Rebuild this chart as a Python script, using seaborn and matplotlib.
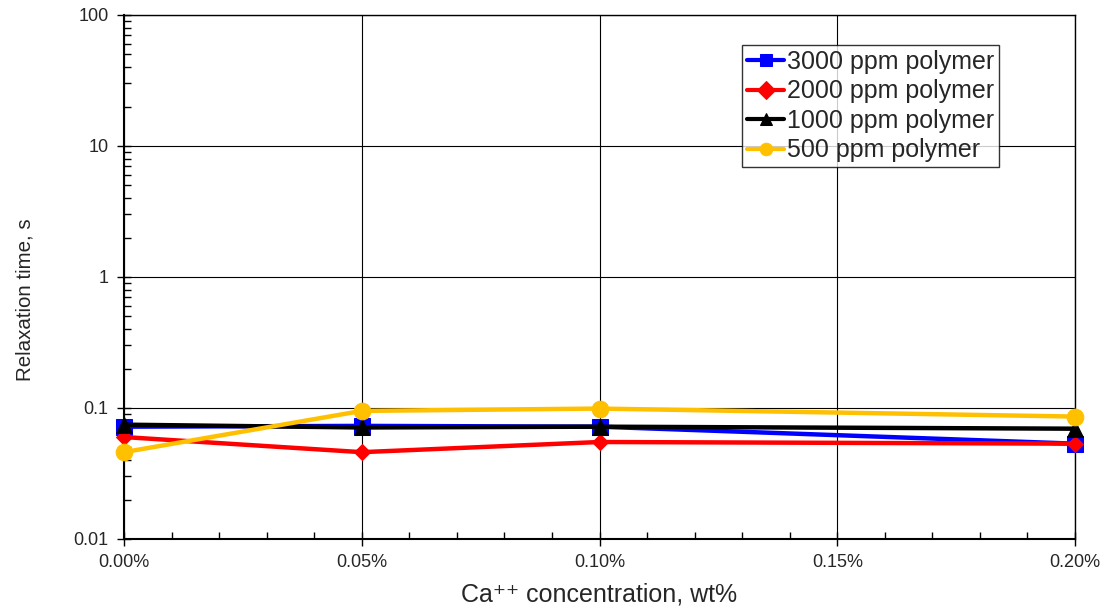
import matplotlib
matplotlib.use("Agg")
import matplotlib.pyplot as plt
import matplotlib.ticker as mticker
import seaborn as sns
import pandas as pd

# Data
ca_conc = [0.00, 0.05, 0.10, 0.20]  # wt%
series_names = ["3000 ppm polymer", "2000 ppm polymer", "1000 ppm polymer", "500 ppm polymer"]
vals_3000 = [0.072, 0.073, 0.072, 0.0534]
vals_2000 = [0.060, 0.046, 0.055, 0.0534]
vals_1000 = [0.0746, 0.071, 0.072, 0.0695]
vals_500 = [0.046, 0.095, 0.099, 0.086]
x_ticks = [0.00, 0.05, 0.10, 0.15, 0.20]
y_ticks = [0.01, 0.1, 1, 10, 100]

colors = ["#0000FF", "#FF0000", "#000000", "#FFC000"]
markers = ["s", "D", "^", "o"]
msizes = [11, 8, 11, 12]

sns.set_theme(style="white")
plt.rcParams['font.family'] = ['Liberation Sans', 'DejaVu Sans']

rows = []
for name, vals in zip(series_names, [vals_3000, vals_2000, vals_1000, vals_500]):
    for xv, yv in zip(ca_conc, vals):
        rows.append({"x": xv, "y": yv, "series": name})
df = pd.DataFrame(rows)

fig = plt.figure(figsize=(11.10, 6.12), dpi=100)
ax = fig.add_axes([0.1117, 0.1193, 0.9685 - 0.1117, 0.9755 - 0.1193])

for name, c, m, ms in zip(series_names, colors, markers, msizes):
    sub = df[df["series"] == name]
    sns.lineplot(data=sub, x="x", y="y", ax=ax, color=c, marker=m, markersize=ms,
                 markeredgecolor=c, linewidth=3.2, label=name, clip_on=False, zorder=3)

ax.set_yscale("log")
ax.set_ylim(0.01, 100)
ax.set_xlim(0, 0.20)
ax.set_xticks(x_ticks)
ax.xaxis.set_major_formatter(mticker.FuncFormatter(lambda v, p: f"{v:.2f}%"))
ax.xaxis.set_minor_locator(mticker.MultipleLocator(0.01))
ax.set_yticks(y_ticks)
ax.yaxis.set_major_formatter(mticker.FuncFormatter(lambda v, p: f"{v:g}"))
ax.yaxis.set_minor_locator(mticker.LogLocator(base=10, subs=range(2, 10)))
ax.yaxis.set_minor_formatter(mticker.NullFormatter())

ax.grid(True, which="major", color="black", linewidth=0.8)
for s in ax.spines.values():
    s.set_color("black")
    s.set_linewidth(1.0)
ax.spines['left'].set_linewidth(1.5)
ax.spines['bottom'].set_linewidth(1.5)

ax.tick_params(axis="both", which="major", direction="inout", length=10, width=1,
               color="black", labelsize=13, pad=6, left=True, bottom=True)
ax.tick_params(axis="both", which="minor", direction="in", length=5, width=1,
               color="black", left=True, bottom=True)

ax.set_xlabel("Ca\u207a\u207a concentration, wt%", fontsize=18, labelpad=8)
ax.set_ylabel("Relaxation time, s", fontsize=14.8)
ax.yaxis.set_label_coords(-0.0944, 0.456)

leg = ax.legend(loc="upper left", bbox_to_anchor=(0.6497, 0.943), fontsize=18,
                frameon=True, fancybox=False, handlelength=1.5, handletextpad=0.1,
                borderpad=0.2, labelspacing=0.22, borderaxespad=0)
leg.get_frame().set_edgecolor("black")
leg.get_frame().set_linewidth(1.0)
for h in leg.legend_handles:
    h.set_markersize(9)
    h.set_linewidth(3)

fig.savefig("out.png", dpi=100)
